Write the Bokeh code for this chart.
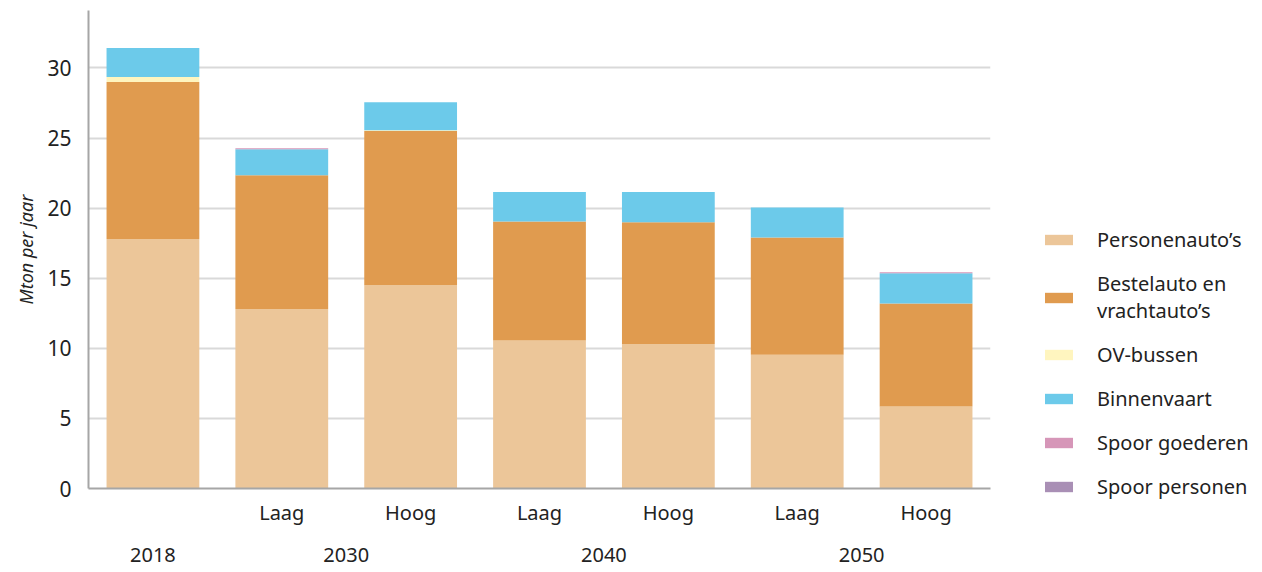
from bokeh.plotting import figure
from bokeh.models import ColumnDataSource, FixedTicker, LinearAxis, Legend, Range1d
from bokeh.embed import file_html
from bokeh.resources import INLINE

# ---- data ----
bar_pos = [0, 1, 2, 3, 4, 5, 6]
scenario_labels = ["", "Laag", "Hoog", "Laag", "Hoog", "Laag", "Hoog"]
year_ticks = [0, 1.5, 3.5, 5.5]
year_labels = ["2018", "2030", "2040", "2050"]

personenautos = [17.8, 12.8, 14.5, 10.55, 10.3, 9.55, 5.85]
bestel_vracht = [11.2, 9.55, 11.0, 8.5, 8.7, 8.35, 7.35]
ov_bussen = [0.35, 0.0, 0.05, 0.0, 0.0, 0.0, 0.0]
binnenvaart = [2.07, 1.85, 2.0, 2.1, 2.15, 2.15, 2.15]
spoor_goederen = [0.0, 0.08, 0.0, 0.0, 0.0, 0.0, 0.08]
spoor_personen = [0.0, 0.0, 0.0, 0.0, 0.0, 0.0, 0.0]

series = ["personen", "bestel", "ov", "binnen", "goederen", "spoorpers"]
series_labels = ["Personenauto’s", "Bestelauto en\nvrachtauto’s", "OV-bussen",
                 "Binnenvaart", "Spoor goederen", "Spoor personen"]
colors = ["#ecc699", "#e09b4f", "#fff5bf", "#6ccaea", "#d696b8", "#a98fb5"]

source = ColumnDataSource(dict(
    x=bar_pos, personen=personenautos, bestel=bestel_vracht, ov=ov_bussen,
    binnen=binnenvaart, goederen=spoor_goederen, spoorpers=spoor_personen))

FONT = "Noto Sans"
TXT = "#222222"

p = figure(width=1250, height=568, output_backend="svg", toolbar_location=None,
           x_range=Range1d(-0.5, 6.5), y_range=Range1d(0, 34.1),
           min_border_left=88, min_border_top=10, min_border_bottom=80,
           min_border_right=0)
p.frame_width = 902
p.frame_height = 478
p.outline_line_color = None
p.background_fill_color = "white"

renderers = p.vbar_stack(series, x="x", width=0.72, source=source, color=colors,
                         line_color=None)

# grid
p.xgrid.visible = False
p.ygrid.grid_line_color = "#d9d9d9"
p.ygrid.grid_line_width = 2
p.ygrid.ticker = FixedTicker(ticks=[5, 10, 15, 20, 25, 30])

# y axis
ya = p.yaxis[0]
ya.ticker = FixedTicker(ticks=[0, 5, 10, 15, 20, 25, 30])
ya.axis_line_color = "#a6a6a6"
ya.axis_line_width = 2
ya.major_tick_line_color = None
ya.minor_tick_line_color = None
ya.major_label_standoff = 11
ya.major_label_text_font = FONT
ya.major_label_text_font_size = "21px"
ya.major_label_text_color = TXT
ya.axis_label = "Mton per jaar"
ya.axis_label_text_font = FONT
ya.axis_label_text_font_style = "italic"
ya.axis_label_text_font_size = "18px"
ya.axis_label_text_color = TXT
ya.axis_label_standoff = 6

# x axis (scenario labels)
xa = p.xaxis[0]
xa.ticker = FixedTicker(ticks=bar_pos[1:])
xa.major_label_overrides = {i: s for i, s in zip(bar_pos, scenario_labels) if s}
xa.axis_line_color = "#a6a6a6"
xa.axis_line_width = 2
xa.major_tick_line_color = None
xa.minor_tick_line_color = None
xa.major_label_standoff = 4
xa.major_label_text_font = FONT
xa.major_label_text_font_size = "20px"
xa.major_label_text_color = TXT

# second x axis (years)
xa2 = LinearAxis(ticker=FixedTicker(ticks=year_ticks),
                 major_label_overrides={t: s for t, s in zip(year_ticks, year_labels)})
xa2.axis_line_color = None
xa2.major_tick_line_color = None
xa2.minor_tick_line_color = None
xa2.major_label_standoff = 13
xa2.major_label_text_font = FONT
xa2.major_label_text_font_size = "20px"
xa2.major_label_text_color = TXT
p.add_layout(xa2, "below")

# legend
items = [(lab, [r]) for lab, r in zip(series_labels, renderers)]
legend = Legend(items=items, location=(51, -12), orientation="vertical")
legend.margin = 0
legend.padding = 0
legend.border_line_color = None
legend.background_fill_alpha = 0
legend.glyph_width = 35
legend.glyph_height = 13
legend.label_standoff = 21
legend.label_text_font = FONT
legend.label_text_font_size = "20px"
legend.label_text_color = TXT
legend.label_height = 22
legend.spacing = 17
p.add_layout(legend, "right")

open("out.html", "w").write(file_html(p, INLINE))
